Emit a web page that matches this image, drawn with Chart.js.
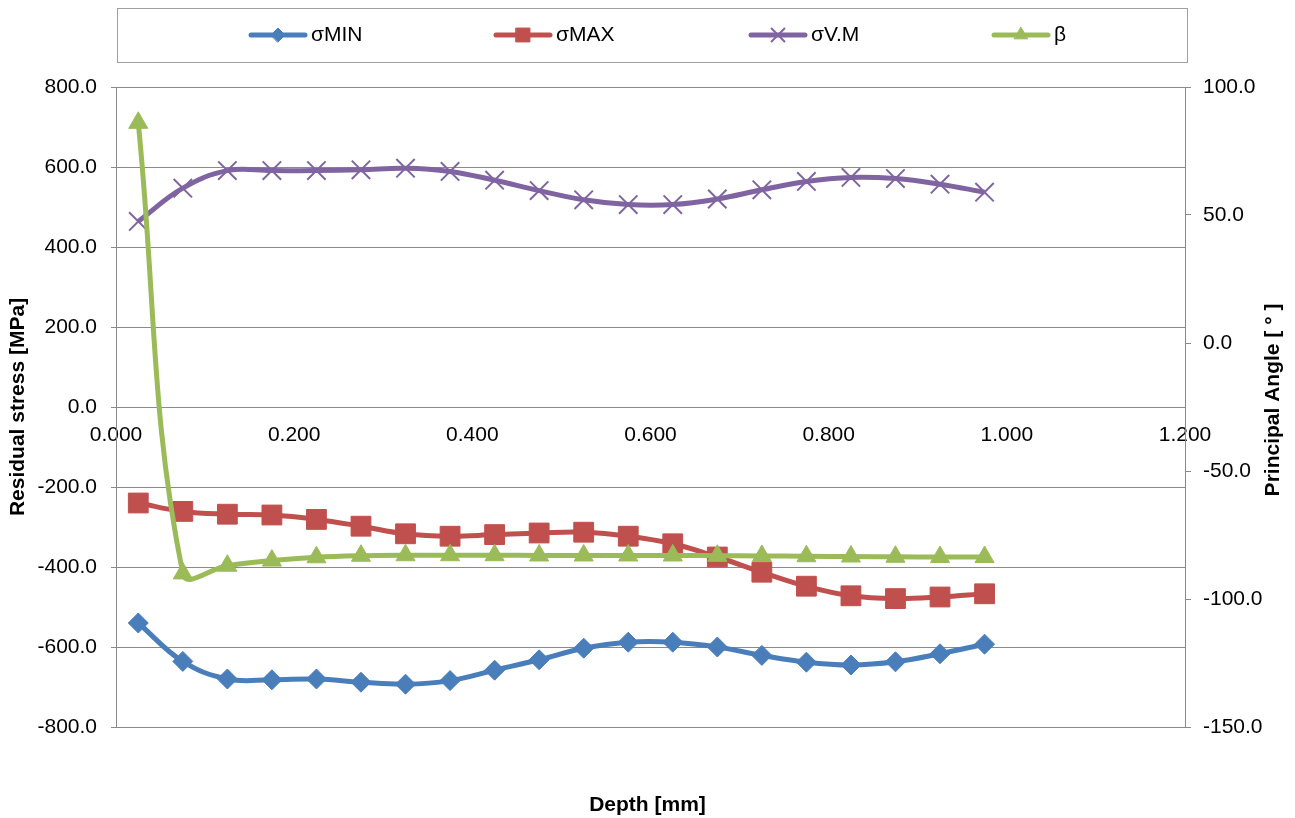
<!DOCTYPE html>
<html>
<head>
<meta charset="utf-8">
<title>Residual stress vs depth</title>
<script src="https://cdn.jsdelivr.net/npm/chart.js"></script>
<style>
  html, body { margin: 0; padding: 0; background: #fff; }
  canvas { display: block; }
</style>
</head>
<body>
<canvas id="stressChart" width="1295" height="818"></canvas>
<script>
// Data
const depth = [0.025, 0.075, 0.125, 0.175, 0.225, 0.275, 0.325, 0.375, 0.425, 0.475,
               0.525, 0.575, 0.625, 0.675, 0.725, 0.775, 0.825, 0.875, 0.925, 0.975];
const sigmaMin = [-540, -636, -680, -682, -680, -688, -693, -684, -658, -632,
                  -603, -588, -588, -600, -621, -638, -645, -637, -617, -593];
const sigmaMax = [-240, -261, -268, -270, -281, -298, -317, -323, -319, -315,
                  -313, -323, -342, -375, -413, -448, -472, -479, -475, -467];
const sigmaVM = [464, 547, 591, 591, 591, 593, 597, 589, 567, 541,
                 518, 506, 506, 520, 543, 564, 574, 571, 557, 537];
const beta = [86, -90, -87, -85, -83.7, -83.1, -82.9, -82.9, -82.9, -83,
              -83, -83, -83, -83.1, -83.2, -83.3, -83.4, -83.5, -83.6, -83.6];
const seriesLabels = ['σMIN', 'σMAX', 'σV.M', 'β'];

const FONT = "'Liberation Sans', Arial, sans-serif";
const GRID = '#8a8a8a';

Chart.defaults.font.family = FONT;
Chart.defaults.font.size = 21;
Chart.defaults.color = '#000';

const toPoints = values => values.map((v, i) => ({ x: depth[i], y: v }));

function series(label, values, color, style, radius, axis, order) {
    return {
        label,
        data: toPoints(values),
        yAxisID: axis,
        borderColor: color,
        backgroundColor: color,
        borderWidth: 5,
        tension: 0.4,
        pointStyle: style,
        pointRadius: radius,
        pointHoverRadius: radius,
        pointBorderWidth: style === 'crossRot' ? 2 : 1,
        pointBorderColor: color,
        pointBackgroundColor: color,
        order
    };
}

// Excel-style legend box, right axis title and x axis title
const chartDecor = {
    id: 'chartDecor',
    afterDraw(chart, args, opts) {
        const { ctx, chartArea } = chart;
        const h = Chart.helpers;
        ctx.save();

        // legend frame
        ctx.strokeStyle = '#a0a0a0';
        ctx.lineWidth = 1;
        ctx.strokeRect(117.5, 8.5, 1070, 54);

        chart.data.datasets.forEach((ds, i) => {
            const x0 = opts.itemX[i];
            const y = 35;
            ctx.strokeStyle = ds.borderColor;
            ctx.lineWidth = 5;
            ctx.lineCap = 'round';
            ctx.beginPath();
            ctx.moveTo(x0, y);
            ctx.lineTo(x0 + 54, y);
            ctx.stroke();
            ctx.fillStyle = ds.borderColor;
            ctx.lineWidth = ds.pointBorderWidth;
            if (h && h.drawPoint) {
                h.drawPoint(ctx, {
                    pointStyle: ds.pointStyle,
                    radius: ds.pointRadius * 0.7,
                    borderWidth: ds.pointBorderWidth,
                    rotation: 0
                }, x0 + 27, y);
            }
            ctx.fillStyle = '#000';
            ctx.font = `21px ${FONT}`;
            ctx.textAlign = 'left';
            ctx.textBaseline = 'middle';
            ctx.fillText(ds.label, x0 + 60, y);
        });

        ctx.font = `bold 21px ${FONT}`;
        ctx.fillStyle = '#000';
        ctx.textAlign = 'center';
        ctx.textBaseline = 'middle';

        // right axis title, reading bottom to top
        ctx.save();
        ctx.translate(1273, 400);
        ctx.rotate(-Math.PI / 2);
        ctx.fillText('Principal Angle [ ° ]', 0, 0);
        ctx.restore();

        // x axis title, at the bottom of the picture
        ctx.fillText('Depth [mm]', (chartArea.left + chartArea.right) / 2 - 3, 805);

        ctx.restore();
    }
};

new Chart(document.getElementById('stressChart'), {
    type: 'line',
    data: {
        datasets: [
            series(seriesLabels[0], sigmaMin, '#4a7ebb', 'rectRot', 10, 'y', 3),
            series(seriesLabels[1], sigmaMax, '#c0504d', 'rect', 14, 'y', 2),
            series(seriesLabels[2], sigmaVM, '#8064a2', 'crossRot', 13, 'y', 1),
            series(seriesLabels[3], beta, '#9bbb59', 'triangle', 11, 'y1', 0)
        ]
    },
    options: {
        responsive: false,
        animation: false,
        layout: { padding: { top: 87, bottom: 91, left: 0, right: 0 } },
        plugins: {
            legend: { display: false },
            tooltip: { enabled: false },
            chartDecor: { itemX: [251, 496, 751, 994] }
        },
        scales: {
            x: {
                type: 'linear',
                position: { y: 0 },
                min: 0,
                max: 1.2,
                grid: { display: false, drawTicks: false },
                border: { display: true, color: GRID, width: 1 },
                ticks: {
                    stepSize: 0.2,
                    padding: 16,
                    maxRotation: 0,
                    callback: v => Number(v).toFixed(3)
                }
            },
            y: {
                position: 'left',
                min: -800,
                max: 800,
                grid: { color: GRID, lineWidth: 1, drawTicks: true, tickLength: 5 },
                border: { display: true, color: GRID, width: 1 },
                ticks: { stepSize: 200, padding: 14, callback: v => Number(v).toFixed(1) },
                title: {
                    display: true,
                    text: 'Residual stress [MPa]',
                    font: { weight: 'bold', size: 21 },
                    padding: { top: 6, bottom: 0 }
                },
                afterFit: scale => { scale.width = 116; }
            },
            y1: {
                position: 'right',
                min: -150,
                max: 100,
                grid: { color: GRID, drawOnChartArea: false, drawTicks: true, tickLength: 6 },
                border: { display: true, color: GRID, width: 1 },
                ticks: { stepSize: 50, padding: 12, callback: v => Number(v).toFixed(1) },
                afterFit: scale => { scale.width = 110; }
            }
        }
    },
    plugins: [chartDecor]
});
</script>
</body>
</html>
